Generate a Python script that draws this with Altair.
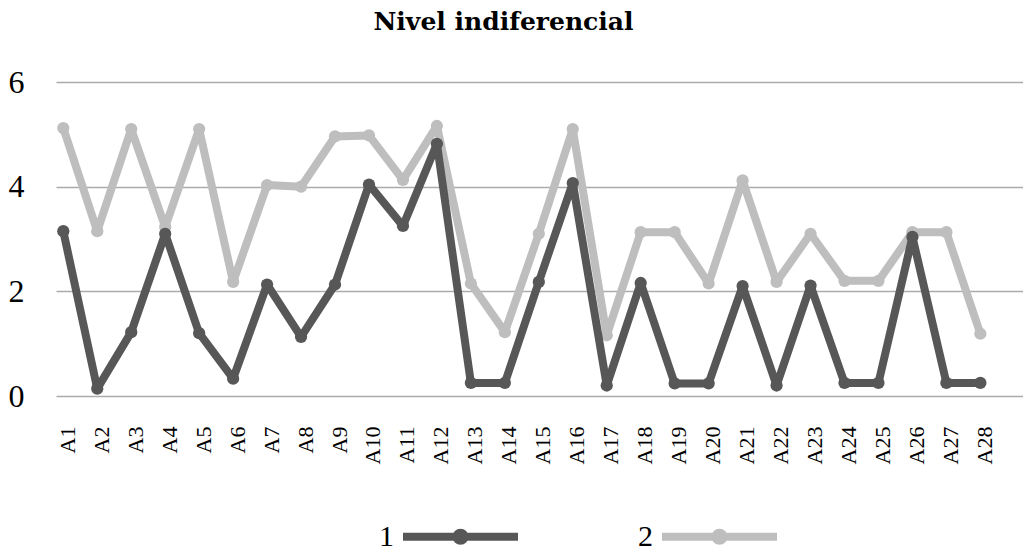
import altair as alt
import pandas as pd

categories = ["A1", "A2", "A3", "A4", "A5", "A6", "A7", "A8", "A9", "A10",
              "A11", "A12", "A13", "A14", "A15", "A16", "A17", "A18", "A19", "A20",
              "A21", "A22", "A23", "A24", "A25", "A26", "A27", "A28"]
series_names = ["1", "2"]
serie_1 = [3.15, 0.14, 1.22, 3.10, 1.20, 0.33, 2.13, 1.13, 2.13, 4.04,
           3.25, 4.82, 0.25, 0.25, 2.18, 4.07, 0.20, 2.16, 0.24, 0.24,
           2.10, 0.20, 2.11, 0.25, 0.25, 3.04, 0.25, 0.25]
serie_2 = [5.12, 3.15, 5.10, 3.23, 5.10, 2.18, 4.03, 4.00, 4.96, 4.98,
           4.13, 5.16, 2.15, 1.22, 3.10, 5.10, 1.16, 3.13, 3.13, 2.15,
           4.12, 2.18, 3.10, 2.20, 2.20, 3.13, 3.13, 1.19]
y_ticks = [0, 2, 4, 6]
colors = ["#575757", "#bebebe"]
title_text = "Nivel indiferencial"

rows = []
for name, vals in zip(series_names, [serie_1, serie_2]):
    for c, v in zip(categories, vals):
        rows.append({"cat": c, "serie": name, "valor": v})
df = pd.DataFrame(rows)

FONT = "Times New Roman, Liberation Serif, serif"
legend_path = ("M-1,0L1,0M0.07,0A0.07,0.07,0,1,1,-0.07,0"
               "A0.07,0.07,0,1,1,0.07,0Z")

x = alt.X("cat:N", sort=categories, title=None,
          scale=alt.Scale(type="point", padding=0.735, align=0.146),
          axis=alt.Axis(labelAngle=270, labelAlign="right", labelBaseline="middle",
                        labelFontSize=22, labelFont=FONT, labelColor="black",
                        labelPadding=30, labelOffset=4, domain=False, ticks=False,
                        grid=False))
y = alt.Y("valor:Q", title=None, scale=alt.Scale(domain=[0, 6], nice=False),
          axis=alt.Axis(values=y_ticks, labelFontSize=32, labelFont=FONT,
                        labelColor="black", labelPadding=32, domain=False,
                        ticks=False, grid=True, gridColor="#ababab", gridWidth=1.5))
color = alt.Color("serie:N", scale=alt.Scale(domain=series_names, range=colors),
                  legend=alt.Legend(title=None, orient="none", legendX=343, legendY=393,
                                    direction="horizontal", symbolType=legend_path,
                                    symbolSize=13225, symbolStrokeWidth=8,
                                    labelAlign="right", labelOffset={"expr": "-128"},
                                    labelFontSize=30, labelFont=FONT, labelColor="black",
                                    columnPadding=104))

base = alt.Chart(df).encode(x=x, y=y, color=color)


def series_layer(name):
    return base.transform_filter(alt.datum.serie == name).mark_line(
        point=alt.OverlayMarkDef(filled=True, size=150, opacity=1),
        strokeWidth=8, strokeCap="round", strokeJoin="round")


chart = alt.layer(series_layer("2"), series_layer("1")).properties(
    width=967, height=314,
    title=alt.Title(title_text, font="DejaVu Serif", fontSize=25, fontWeight="bold",
                    color="black", offset=31, anchor="middle", dx=-36),
    padding={"left": 0, "top": 2, "right": 0, "bottom": 0},
).configure_view(stroke=None)

chart.save("out.html", embed_options={"renderer": "svg", "actions": False})
